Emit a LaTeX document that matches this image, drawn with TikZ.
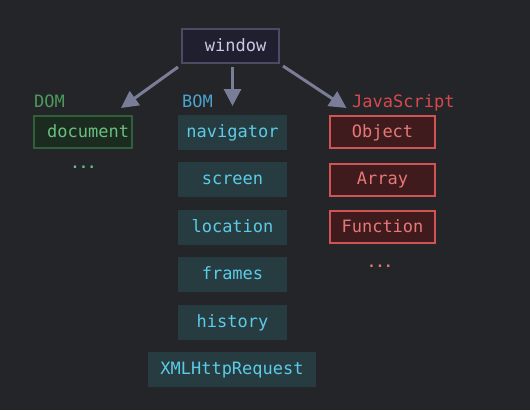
\documentclass[tikz,border=0pt]{standalone}
\usepackage{fontspec}
\newfontfamily\codefont{DejaVu Sans Mono}
\usetikzlibrary{arrows.meta,calc}

\definecolor{bgcol}{HTML}{242529}
\definecolor{winfill}{HTML}{1F1F2F}
\definecolor{winline}{HTML}{4B4B63}
\definecolor{wintext}{HTML}{C9C9E3}
\definecolor{linkcol}{HTML}{7A7D98}
\definecolor{domlabel}{HTML}{4C9A5C}
\definecolor{domfill}{HTML}{1B2B1F}
\definecolor{domline}{HTML}{30603A}
\definecolor{domtext}{HTML}{6ABF80}
\definecolor{bomlabel}{HTML}{4AA3CC}
\definecolor{bomfill}{HTML}{263C41}
\definecolor{bomtext}{HTML}{5CCBE6}
\definecolor{jslabel}{HTML}{D9494C}
\definecolor{jsfill}{HTML}{3F1B1D}
\definecolor{jsline}{HTML}{D05454}
\definecolor{jstext}{HTML}{E87878}

\begin{document}
\begin{tikzpicture}[x=1pt,y=-1pt,
  every node/.style={inner sep=0pt,font=\codefont\fontsize{17}{20}\selectfont,
    text height=13pt,text depth=3pt},
  winbox/.style={draw=winline,line width=2pt,fill=winfill,text=wintext,
    minimum width=97pt,minimum height=34pt},
  dombox/.style={draw=domline,line width=2pt,fill=domfill,text=domtext,
    minimum width=98pt,minimum height=32pt},
  bombox/.style={fill=bomfill,text=bomtext,minimum width=109pt,minimum height=35pt},
  jsbox/.style={draw=jsline,line width=2pt,fill=jsfill,text=jstext,
    minimum width=105pt,minimum height=32pt},
  grouplabel/.style={anchor=base west,text height=,text depth=},
  moredots/.style={font=\codefont\bfseries\fontsize{14}{16}\selectfont},
  link/.style={draw=linkcol,line width=3pt,-{Triangle[length=17pt,width=17pt]}}]
\fill [bgcol] (0,0) rectangle (530,410);
\useasboundingbox (0,0) rectangle (530,410);

% top
\node [winbox] (window) at (230.5,46) {~window};

% group labels
\node [grouplabel,text=domlabel] (domname) at (34,107) {DOM};
\node [grouplabel,text=bomlabel] (bomname) at (182,107) {BOM};
\node [grouplabel,text=jslabel] (jsname) at (352,107) {JavaScript};

% DOM
\node [dombox] (document) at (83,132) {~document};
\node [moredots,text=domtext] (domdots) at (83.5,163.5) {...};

% BOM
\node [bombox] (navigator) at (232.5,132) {navigator};
\node [bombox] (screen) at (232.5,179.5) {screen};
\node [bombox] (location) at (232.5,227) {location};
\node [bombox] (frames) at (232.5,274.5) {frames};
\node [bombox] (history) at (232.5,322) {history};
\node [bombox,minimum width=168pt] (xhr) at (232,369.5) {XMLHttpRequest};

% JavaScript
\node [jsbox] (object) at (382.5,132) {Object};
\node [jsbox] (array) at (382.5,179.5) {Array};
\node [jsbox] (function) at (382.5,227) {Function};
\node [moredots,text=jstext] (jsdots) at (380,262) {...};

% arrows
\coordinate (domtip) at (121,108);
\coordinate (bomtip) at (232.5,106);
\coordinate (jstip) at (346.5,108);
\draw [link] ($(window.south west)+(-3,3)$) -- (domtip);
\draw [link] ($(window.south)+(2,3)$) -- (bomtip);
\draw [link] ($(window.south east)+(3,2)$) -- (jstip);
\end{tikzpicture}
\end{document}
